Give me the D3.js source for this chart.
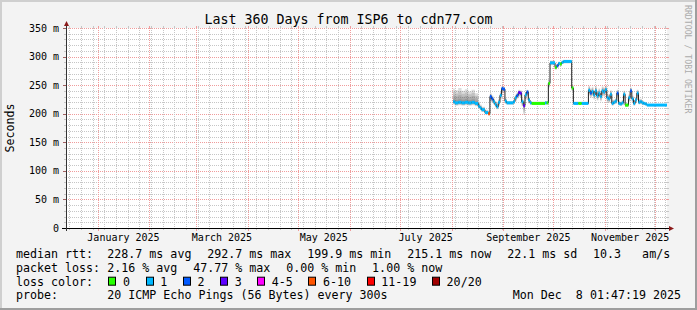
<!DOCTYPE html>
<html><head><meta charset="utf-8">
<script src="https://cdn.jsdelivr.net/npm/d3@7"></script>
<style>
html,body{margin:0;padding:0;background:#F3F3F3;}
svg{display:block;}
text{font-family:"DejaVu Sans Mono",monospace;fill:#000;white-space:pre;}
</style>
</head><body>
<svg id="chart" width="697" height="310"></svg>
<script>
// ---------------- data ----------------
const title = "Last 360 Days from ISP6 to cdn77.com";
const yAxisTitle = "Seconds";
const watermark = "RRDTOOL / TOBI OETIKER";
const endTime = "2025-12-08T01:47:19Z";
const spanDays = 360;

const yTickValues = [0, 50, 100, 150, 200, 250, 300, 350];
const yTickLabels = ["0", "50 m", "100 m", "150 m", "200 m", "250 m", "300 m", "350 m"];

const dates = [
 "2025-08-02","2025-08-03","2025-08-05","2025-08-07","2025-08-09","2025-08-11","2025-08-13","2025-08-15","2025-08-17","2025-08-18","2025-08-19","2025-08-21","2025-08-23","2025-08-24","2025-08-25","2025-08-26","2025-08-27","2025-08-28","2025-08-29","2025-08-30","2025-08-31",
 "2025-09-01","2025-09-02","2025-09-03","2025-09-07","2025-09-08","2025-09-09","2025-09-10","2025-09-11","2025-09-12","2025-09-13","2025-09-14","2025-09-15","2025-09-16","2025-09-17","2025-09-18","2025-09-26","2025-09-27","2025-09-28","2025-09-29",
 "2025-10-02","2025-10-03","2025-10-04","2025-10-05","2025-10-06","2025-10-07","2025-10-12","2025-10-13","2025-10-16","2025-10-18","2025-10-22","2025-10-23","2025-10-24","2025-10-25","2025-10-26","2025-10-27","2025-10-28","2025-10-29","2025-10-30","2025-10-31",
 "2025-11-01","2025-11-02","2025-11-03","2025-11-04","2025-11-05","2025-11-06","2025-11-07","2025-11-08","2025-11-09","2025-11-10","2025-11-11","2025-11-12","2025-11-13","2025-11-15","2025-11-16","2025-11-17","2025-11-18","2025-11-19","2025-11-20","2025-11-21","2025-11-22","2025-11-23","2025-11-24","2025-11-25","2025-11-26"
];
const medianRtt = [
 221,219,220,219,220,219,220,218,213,210,207,202,199.9,230,226,221,216,212,220,232,244,
 243,222,219,221,228,232,237,236,221,214,233,238,224,219,218,219,219,253,289,
 281,284,288,287,290,291.5,245,218,218,218,241,236,239,233,240,231,236,230,240,238,
 242,228,226,234,218,220,222,236,218,217,219,234,215,228,240,226,218,224,236,220,221,219,218,217,215.1
];
const lostPings = [
 1,1,1,1,1,1,1,1,1,1,1,1,7,2,2,1,1,1,1,1,2,
 2,1,1,1,1,2,3,3,1,3,1,2,1,1,0,1,0,0,1,
 0,2,1,0,1,1,0,1,0,1,1,2,1,1,1,1,1,1,1,1,
 1,1,1,1,1,1,1,2,1,1,1,1,0,1,2,1,1,1,1,1,1,1,1,1,1
];
const smokeLo = [
 216,214,215,214,215,214,215,213,209,206,203,199,197,221,219,216,211,208,214,225,238,
 237,217,216,217,222,226,230,229,213,198,224,230,218,216,216,216,216,246,285,
 277,280,284,283,287,288,240,216,216,216,232,228,231,225,232,223,228,222,232,230,
 234,220,219,226,214,216,217,228,214,214,215,226,212,221,233,220,214,219,228,216,217,216,215,215,213.5
];
const smokeHi = [
 244,241,245,240,243,239,242,236,221,216,212,207,205,236,232,226,222,217,226,238,248,
 247,227,222,225,233,237,242,241,227,222,238,242,229,222,221,222,222,258,293,
 285,288,291,290,293,294,250,221,221,221,249,244,247,241,248,239,244,238,248,246,
 249,235,233,241,224,225,227,242,223,221,224,240,219,234,246,232,223,229,242,226,226,223,221,220,217
];

const lossLabels = ["0", "1", "2", "3", "4-5", "6-10", "11-19", "20/20"];
const lossUpper  = [0, 1, 2, 3, 5, 10, 19, 20];
const lossColors = ["#26ff00", "#00b8ff", "#0059ff", "#5e00ff", "#ff00ff", "#ff5500", "#ff0000", "#a10000"];

const rttHead = "median rtt:";
const rttStats = ["228.7 ms avg", "292.7 ms max", "199.9 ms min", "215.1 ms now", "22.1 ms sd", "10.3   am/s"];
const lossHead = "packet loss:";
const lossStats = ["2.16 % avg", "47.77 % max", "0.00 % min", "1.00 % now"];
const colorHead = "loss color:";
const probeHead = "probe:";
const probeText = "20 ICMP Echo Pings (56 Bytes) every 300s";
const stampText = "Mon Dec  8 01:47:19 2025";

// ---------------- layout ----------------
const W = 697, H = 310;
const X0 = 66, X1 = 667, Y0 = 228, Y1 = 28;
const LEG_FS = 11.65, CW = LEG_FS * 0.602;

const svg = d3.select("#chart");
const end = new Date(endTime);
const start = new Date(end.getTime() - spanDays * 864e5);
const parse = d3.utcParse("%Y-%m-%d");

const x = d3.scaleUtc().domain([start, end]).range([X0, X1]);
const y = d3.scaleLinear().domain([0, 350]).range([Y0, Y1]);

const pts = dates.map((d, i) => ({
  t: parse(d), m: medianRtt[i], loss: lostPings[i], lo: smokeLo[i], hi: smokeHi[i]
}));
pts.forEach((p, i) => { p.t1 = i < pts.length - 1 ? pts[i + 1].t : end; });

// background + frame
svg.append("rect").attr("width", W).attr("height", H).attr("fill", "#F3F3F3");
svg.append("rect").attr("x", 0).attr("y", 0).attr("width", W).attr("height", 2).attr("fill", "#CFCFCF");
svg.append("rect").attr("x", 0).attr("y", 0).attr("width", 2).attr("height", H).attr("fill", "#CFCFCF");
svg.append("rect").attr("x", 0).attr("y", H - 2).attr("width", W).attr("height", 2).attr("fill", "#9E9E9E");
svg.append("rect").attr("x", W - 2).attr("y", 0).attr("width", 2).attr("height", H).attr("fill", "#9E9E9E");

// plot canvas
svg.append("rect").attr("x", X0).attr("y", Y1).attr("width", X1 - X0).attr("height", Y0 - Y1).attr("fill", "#FFFFFF");

const MINOR = "#C6C6C6", MAJOR = "#F09C9C";
const grid = svg.append("g");
// horizontal grid
d3.range(0, 351, 10).forEach(v => {
  if (v === 0) return;
  const yy = Math.round(y(v)) + 0.5;
  const major = v % 50 === 0;
  const c = major ? MAJOR : MINOR;
  grid.append("line").attr("x1", X0).attr("x2", X1).attr("y1", yy).attr("y2", yy)
    .attr("stroke", c).attr("stroke-dasharray", "1,1");
  grid.append("line").attr("x1", X0 - (major ? 3 : 2)).attr("x2", X0).attr("y1", yy).attr("y2", yy).attr("stroke", major ? "#A06060" : MINOR);
  grid.append("line").attr("x1", X1).attr("x2", X1 + 2).attr("y1", yy).attr("y2", yy).attr("stroke", c);
});
// vertical grid
const months = d3.utcMonth.range(d3.utcMonth.ceil(start), end);
const monthKeys = new Set(months.map(d => Math.round(x(d))));
d3.utcSunday.range(start, end).forEach(d => {
  const xx = Math.round(x(d)) + 0.5;
  if (monthKeys.has(Math.round(x(d)))) return;
  grid.append("line").attr("x1", xx).attr("x2", xx).attr("y1", Y1).attr("y2", Y0)
    .attr("stroke", MINOR).attr("stroke-dasharray", "1,1");
  grid.append("line").attr("x1", xx).attr("x2", xx).attr("y1", Y0).attr("y2", Y0 + 2).attr("stroke", MINOR);
  grid.append("line").attr("x1", xx).attr("x2", xx).attr("y1", Y1 - 2).attr("y2", Y1).attr("stroke", MINOR);
});
months.forEach(d => {
  const xx = Math.round(x(d)) + 0.5;
  grid.append("line").attr("x1", xx).attr("x2", xx).attr("y1", Y1).attr("y2", Y0)
    .attr("stroke", MAJOR).attr("stroke-dasharray", "1,1");
  grid.append("line").attr("x1", xx).attr("x2", xx).attr("y1", Y0).attr("y2", Y0 + 3).attr("stroke", MAJOR);
  grid.append("line").attr("x1", xx).attr("x2", xx).attr("y1", Y1 - 2).attr("y2", Y1).attr("stroke", MAJOR);
});

// smoke
const smoke = svg.append("g");
const LAYERS = 4;
const last = pts[pts.length - 1];
const smokeSeries = pts.concat([{ t: end, m: last.m, lo: last.lo, hi: last.hi }]);
for (let k = LAYERS; k >= 1; k--) {
  const f = k / LAYERS;
  const area = d3.area().curve(d3.curveStepAfter)
    .x(d => x(d.t))
    .y0(d => y(d.m - (d.m - d.lo) * f))
    .y1(d => y(d.m + (d.hi - d.m) * f));
  smoke.append("path").attr("d", area(smokeSeries)).attr("fill", "#555555").attr("fill-opacity", 0.2);
}

// median black line
const lineSeries = pts.concat([{ t: end, m: last.m }]);
svg.append("path")
  .attr("d", d3.line().curve(d3.curveStepAfter).x(d => x(d.t)).y(d => y(d.m))(lineSeries))
  .attr("fill", "none").attr("stroke", "#202020").attr("stroke-width", 1);

// loss coloured median band
const bucket = l => lossUpper.findIndex(u => l <= u);
svg.append("g").selectAll("rect").data(pts).join("rect")
  .attr("x", d => x(d.t))
  .attr("width", d => Math.max(0.8, x(d.t1) - x(d.t)))
  .attr("y", d => y(d.m) - 1.5)
  .attr("height", 3)
  .attr("fill", d => lossColors[bucket(d.loss)]);

// axes
svg.append("line").attr("x1", X0 - 4).attr("x2", X1 + 3).attr("y1", Y0 + 0.5).attr("y2", Y0 + 0.5).attr("stroke", "#000");
svg.append("line").attr("x1", X0 + 0.5).attr("x2", X0 + 0.5).attr("y1", Y0 + 3).attr("y2", Y1 - 3).attr("stroke", "#333");
svg.append("path").attr("d", `M${X0 - 2},${Y1 - 2}L${X0 + 3},${Y1 - 2}L${X0 + 0.5},${Y1 - 7}Z`).attr("fill", "#8B1A1A");
svg.append("path").attr("d", `M${X1 + 2},${Y0 - 2}L${X1 + 2},${Y0 + 3}L${X1 + 7},${Y0 + 0.5}Z`).attr("fill", "#8B1A1A");

// y tick labels
svg.append("g").selectAll("text").data(yTickValues).join("text")
  .attr("x", X0 - 7).attr("y", d => y(d) + 3.6)
  .attr("text-anchor", "end").attr("font-size", 10)
  .text((d, i) => yTickLabels[i]);

// x month labels (every 2 months, centred in month)
const labelMonths = d3.utcMonth.every(2).range(d3.utcMonth.floor(start), end);
labelMonths.forEach(m => {
  const mid = new Date((m.getTime() + d3.utcMonth.offset(m, 1).getTime()) / 2);
  if (x(mid) < X0 + 20 || x(mid) > X1) return;
  svg.append("text").attr("x", x(mid)).attr("y", Y0 + 13)
    .attr("text-anchor", "middle").attr("font-size", 10)
    .text(d3.utcFormat("%B %Y")(m));
});

// title
svg.append("text").attr("x", W / 2).attr("y", 23.5).attr("text-anchor", "middle")
  .attr("font-size", 13.3).text(title);

// y axis title
svg.append("text").attr("transform", `translate(13.5,${(Y0 + Y1) / 2}) rotate(-90)`)
  .attr("text-anchor", "middle").attr("font-size", LEG_FS).text(yAxisTitle);

// watermark
svg.append("text").attr("transform", `translate(685,5) rotate(90)`)
  .attr("font-size", 8.2).style("fill", "#ABABAB").text(watermark);

// legend
const LX = 16, VX = 107.3, GAP = 15.8;
const rows = [258.3, 272, 285.7, 299.4];
function statRow(yy, head, items) {
  svg.append("text").attr("x", LX).attr("y", yy).attr("font-size", LEG_FS).text(head);
  let xx = VX;
  items.forEach(s => {
    svg.append("text").attr("x", xx).attr("y", yy).attr("font-size", LEG_FS).text(s);
    xx += s.length * CW + GAP;
  });
}
statRow(rows[0], rttHead, rttStats);
statRow(rows[1], lossHead, lossStats);

svg.append("text").attr("x", LX).attr("y", rows[2]).attr("font-size", LEG_FS).text(colorHead);
let bx = 108.3;
lossLabels.forEach((lab, i) => {
  svg.append("rect").attr("x", Math.round(bx) + 0.5).attr("y", rows[2] - 8.5).attr("width", 7).attr("height", 8)
    .attr("fill", lossColors[i]).attr("stroke", "#000").attr("stroke-width", 1);
  const tx = bx + 14.7;
  svg.append("text").attr("x", tx).attr("y", rows[2]).attr("font-size", LEG_FS).text(lab);
  bx = tx + lab.length * CW + 15.5;
});

svg.append("text").attr("x", LX).attr("y", rows[3]).attr("font-size", LEG_FS).text(probeHead);
svg.append("text").attr("x", VX).attr("y", rows[3]).attr("font-size", LEG_FS).text(probeText);
svg.append("text").attr("x", 681).attr("y", rows[3]).attr("text-anchor", "end").attr("font-size", LEG_FS).text(stampText);
</script>
</body></html>
